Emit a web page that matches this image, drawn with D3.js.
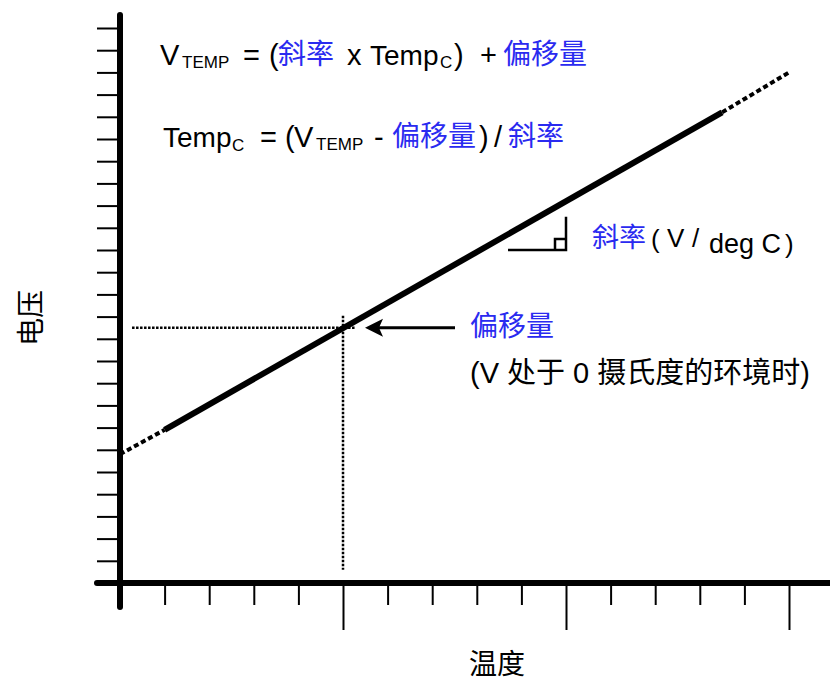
<!DOCTYPE html>
<html>
<head>
<meta charset="utf-8">
<script src="https://cdn.jsdelivr.net/npm/d3@7"></script>
<style>
  body { margin: 0; background: #fff; }
  text { font-family: "Liberation Sans", Arial, "Noto Sans CJK SC", sans-serif; }
  .cjk { font-family: "Noto Sans CJK SC", sans-serif; }
</style>
</head>
<body>
<div id="chart"></div>
<script>
// temperature (deg C) along x, voltage in tick units along y
const tempTicks = d3.range(-40, 101, 10);
const majorTemps = [0, 50, 100];
const voltTicks = d3.range(1, 26);

// transfer line
const lineTemps = [-50, -40, 85, 100];
const lineVolts = [5.8, 6.9, 21.2, 23.0];
const offsetPoint = { temp: 0, volt: 11.5 };

const blue = "#2a2af0";
const width = 830, height = 685;

const svg = d3.select("#chart").append("svg")
    .attr("width", width)
    .attr("height", height);

const x = d3.scaleLinear().domain([-50, 100]).range([120, 789]);
const y = d3.scaleLinear().domain([0, 25]).range([583, 28]);

// axes
svg.append("line")
    .attr("x1", 120).attr("x2", 120).attr("y1", 15).attr("y2", 607)
    .attr("stroke", "#000").attr("stroke-width", 6).attr("stroke-linecap", "round");
svg.append("line")
    .attr("x1", 97).attr("x2", 835).attr("y1", y(0)).attr("y2", y(0))
    .attr("stroke", "#000").attr("stroke-width", 6).attr("stroke-linecap", "round");

const minorAxis = svg.append("g")
    .attr("transform", `translate(0,${y(0)})`)
    .call(d3.axisBottom(x).tickValues(tempTicks.filter(t => !majorTemps.includes(t))).tickSize(22).tickFormat(""));
const majorAxis = svg.append("g")
    .attr("transform", `translate(0,${y(0)})`)
    .call(d3.axisBottom(x).tickValues(majorTemps).tickSize(47).tickFormat(""));
const leftAxis = svg.append("g")
    .attr("transform", "translate(120,0)")
    .call(d3.axisLeft(y).tickValues(voltTicks).tickSize(23).tickFormat(""));

[minorAxis, majorAxis, leftAxis].forEach(g => {
    g.select(".domain").remove();
    g.selectAll("line").attr("stroke", "#000").attr("stroke-width", 2);
});

// transfer line: dashed ends, solid middle
const pts = lineTemps.map((t, i) => [x(t), y(lineVolts[i])]);
const seg = d3.line();
svg.append("path").attr("d", seg([pts[0], pts[1]]))
    .attr("stroke", "#000").attr("stroke-width", 4).attr("stroke-dasharray", "5,3").attr("fill", "none");
svg.append("path").attr("d", seg([pts[2], pts[3]]))
    .attr("stroke", "#000").attr("stroke-width", 4).attr("stroke-dasharray", "5,3").attr("fill", "none");
svg.append("path").attr("d", seg([pts[1], pts[2]]))
    .attr("stroke", "#000").attr("stroke-width", 6).attr("fill", "none");

// offset guide lines
const ox = x(offsetPoint.temp), oy = y(offsetPoint.volt);
svg.append("line")
    .attr("x1", x(-47.3)).attr("x2", x(2.7)).attr("y1", oy).attr("y2", oy)
    .attr("stroke", "#000").attr("stroke-width", 2.5).attr("stroke-dasharray", "2.5,1.5");
svg.append("line")
    .attr("x1", ox).attr("x2", ox).attr("y1", oy - 12).attr("y2", y(0.6))
    .attr("stroke", "#000").attr("stroke-width", 2.5).attr("stroke-dasharray", "2.5,1.5");

// arrow pointing at the offset point
svg.append("line")
    .attr("x1", 455).attr("x2", 378).attr("y1", oy).attr("y2", oy)
    .attr("stroke", "#000").attr("stroke-width", 3);
svg.append("path")
    .attr("d", `M365,${oy} L383,${oy - 9} L379,${oy} L383,${oy + 9} Z`)
    .attr("fill", "#000");

// slope marker
const sx0 = x(37), sx1 = x(50), sy0 = y(15), sy1 = y(16.5);
svg.append("path")
    .attr("d", `M${sx0},${sy0} H${sx1} V${sy1} M${sx1 - 11},${sy0} V${sy0 - 11} H${sx1}`)
    .attr("stroke", "#000").attr("stroke-width", 2.5).attr("fill", "none");

// formula text
function piece(g, str, px, py, size, color, cls) {
    g.append("text").attr("x", px).attr("y", py)
        .attr("font-size", size).attr("fill", color || "#000")
        .attr("class", cls || null).text(str);
}
const f = svg.append("g");
piece(f, "V", 160, 65, 29);
piece(f, "TEMP", 182, 68, 17);
piece(f, "=", 243, 65, 29);
piece(f, "(", 269, 65, 29);
piece(f, "斜率", 278, 64, 28, blue, "cjk");
piece(f, "x", 347, 65, 29);
piece(f, "Temp", 370, 65, 28);
piece(f, "C", 440, 68, 17);
piece(f, ")", 454, 65, 29);
piece(f, "+", 480, 65, 29);
piece(f, "偏移量", 503, 64, 28, blue, "cjk");

piece(f, "Temp", 163, 147, 28);
piece(f, "C", 232, 151, 17);
piece(f, "=", 260, 147, 29);
piece(f, "(", 285, 147, 29);
piece(f, "V", 294, 147, 29);
piece(f, "TEMP", 316, 150, 17);
piece(f, "-", 374, 147, 29);
piece(f, "偏移量", 392, 146, 28, blue, "cjk");
piece(f, ")", 479, 147, 29);
piece(f, "/", 494, 147, 29);
piece(f, "斜率", 508, 146, 28, blue, "cjk");

// slope label
piece(f, "斜率", 592, 247, 27, blue, "cjk");
piece(f, "(", 651, 248, 26);
piece(f, "V", 667, 247, 26);
piece(f, "/", 692, 247, 26);
piece(f, "deg C", 709, 253, 27);
piece(f, ")", 785, 253, 26);

// offset label
piece(f, "偏移量", 470, 336, 28, blue, "cjk");
svg.append("text").attr("x", 470).attr("y", 383).attr("font-size", 29)
    .text("(V 处于 0 摄氏度的环境时)");

// axis titles
svg.append("text")
    .attr("class", "cjk")
    .attr("transform", "translate(29,318) rotate(-90)")
    .attr("text-anchor", "middle").attr("dominant-baseline", "central")
    .attr("font-size", 28).text("电压");
svg.append("text")
    .attr("class", "cjk")
    .attr("x", 497).attr("y", 662)
    .attr("text-anchor", "middle").attr("dominant-baseline", "central")
    .attr("font-size", 28).text("温度");
</script>
</body>
</html>
